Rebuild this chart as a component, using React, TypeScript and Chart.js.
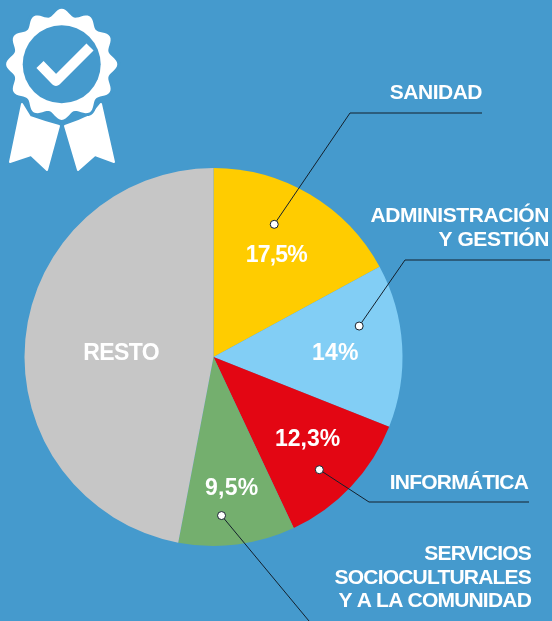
import React, { useEffect, useRef } from "react";
import { Chart, registerables } from "chart.js";

Chart.register(...registerables);

const categories = ["SANIDAD", "ADMINISTRACIÓN Y GESTIÓN", "INFORMÁTICA", "SERVICIOS SOCIOCULTURALES Y A LA COMUNIDAD", "RESTO"];
const drawnShares = [17.08, 13.94, 12.0, 9.97, 47.01];
const valueLabels = ["17,5%", "14%", "12,3%", "9,5%", "RESTO"];
const sliceColors = ["#FFCC00", "#82CEF5", "#E30613", "#74AF6E", "#C6C6C6"];

const labelRadius = [0.64, 0.64, 0.655, 0.69, 0.485];
const labelShiftX = [1, 1, 4, 2, -1];
const labelShiftY = [3, 4, -2, 2, 5];
const labelSpacing = [-0.8, 0.2, 0, 0.3, -0.6];

const calloutLines = [["SANIDAD"], ["ADMINISTRACIÓN", "Y GESTIÓN"], ["INFORMÁTICA"], ["SERVICIOS", "SOCIOCULTURALES", "Y A LA COMUNIDAD"]];
const calloutRight = [482, 549, 528, 531];
const calloutTop = [93.5, 216.5, 483.5, 554.5];
const calloutStep = 23.5;
const calloutSpacing = [-0.5, -0.42, -0.8, -0.8];
const dotAngle = [24.6, 78, 136.8, 177.1];
const dotRadius = [0.772, 0.788, 0.818, 0.84];
const leaderPaths = [
  [[350, 113], [482, 113]],
  [[405, 260], [550, 260]],
  [[369, 502], [529, 502]],
  [[309, 621]],
];

const BG = "#459ACD";
const FONT = '"Liberation Sans", Arial, sans-serif';

const overlay = {
  id: "overlay",
  afterDatasetsDraw(chart: any) {
    const ctx = chart.ctx;
    const arcs = chart.getDatasetMeta(0).data;
    const { x: cx, y: cy, outerRadius: R } = arcs[0];
    ctx.save();
    ctx.textBaseline = "middle";
    ctx.fillStyle = "#fff";
    ctx.font = `bold 23px ${FONT}`;
    ctx.textAlign = "center";
    arcs.forEach((a: any, i: number) => {
      const mid = (a.startAngle + a.endAngle) / 2;
      const r = R * labelRadius[i];
      ctx.letterSpacing = `${labelSpacing[i]}px`;
      ctx.fillText(valueLabels[i], cx + r * Math.cos(mid) + labelShiftX[i], cy + r * Math.sin(mid) + labelShiftY[i]);
    });
    dotAngle.forEach((deg, i) => {
      const t = (deg * Math.PI) / 180;
      const px = cx + R * dotRadius[i] * Math.sin(t);
      const py = cy - R * dotRadius[i] * Math.cos(t);
      ctx.beginPath();
      ctx.moveTo(px, py);
      leaderPaths[i].forEach((p) => ctx.lineTo(p[0], p[1]));
      ctx.strokeStyle = "#14202c";
      ctx.lineWidth = 1;
      ctx.stroke();
      ctx.beginPath();
      ctx.arc(px, py, 4, 0, Math.PI * 2);
      ctx.fillStyle = "#fff";
      ctx.fill();
      ctx.stroke();
    });
    ctx.fillStyle = "#fff";
    ctx.font = `bold 21px ${FONT}`;
    ctx.textAlign = "right";
    calloutLines.forEach((lines, i) => {
      ctx.letterSpacing = `${calloutSpacing[i]}px`;
      lines.forEach((t, j) => {
        ctx.fillText(t, calloutRight[i], calloutTop[i] + j * calloutStep);
      });
    });
    ctx.restore();
  },
};

function scallop(cx: number, cy: number, base: number, amp: number, lobes: number) {
  const pts: string[] = [];
  for (let i = 0; i < 360; i += 2) {
    const t = (i * Math.PI) / 180;
    const r = base + amp * Math.cos(lobes * t);
    pts.push(`${(cx + r * Math.sin(t)).toFixed(2)},${(cy - r * Math.cos(t)).toFixed(2)}`);
  }
  return pts.join(" ");
}

function Badge() {
  const outline = scallop(61.7, 64.3, 52, 3.6, 12);
  return (
    <svg width={130} height={180} style={{ position: "absolute", left: 0, top: 0 }}>
      <path fill="#fff" stroke="#fff" strokeLinejoin="round" strokeWidth={2} d="M22,104 L30,117 Q44,122 59,126 L47,170 L31,155 L10,162 Z" />
      <path fill="#fff" stroke="#fff" strokeLinejoin="round" strokeWidth={2} d="M101,104 L92,115 Q78,122 65,126 L78,170 L95,155 L114,162 Z" />
      <polygon fill={BG} stroke={BG} strokeWidth={6} strokeLinejoin="round" points={outline} />
      <polygon fill="#fff" points={outline} />
      <circle cx={61.7} cy={64.3} r={39} fill={BG} />
      <polyline fill="none" stroke="#fff" strokeWidth={10} strokeLinejoin="round" points="40,64.5 56,81 90,47" />
    </svg>
  );
}

export default function App() {
  const ref = useRef<HTMLCanvasElement>(null);
  useEffect(() => {
    const chart = new Chart(ref.current!, {
      type: "pie",
      data: {
        labels: categories,
        datasets: [{ data: drawnShares, backgroundColor: sliceColors, borderWidth: 0 }],
      },
      options: {
        animation: false,
        responsive: false,
        layout: { padding: { left: 24, right: 149, top: 168, bottom: 75 } },
        plugins: { legend: { display: false }, tooltip: { enabled: false } },
      },
      plugins: [overlay],
    });
    return () => chart.destroy();
  }, []);
  return (
    <div style={{ position: "fixed", left: 0, top: 0, width: 552, height: 621, background: BG, overflow: "hidden" }}>
      <canvas ref={ref} width={552} height={621} style={{ display: "block" }} />
      <Badge />
    </div>
  );
}
